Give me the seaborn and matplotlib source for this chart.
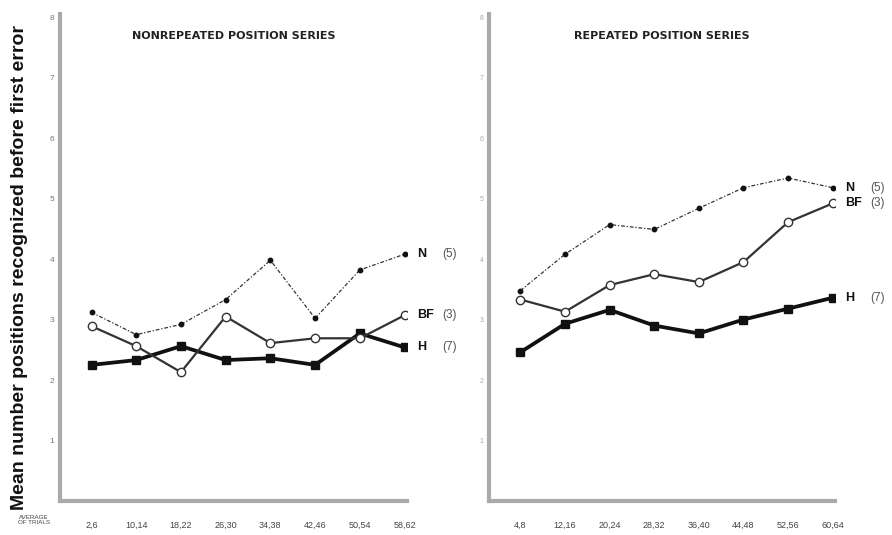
import numpy as np
import pandas as pd
import matplotlib
matplotlib.use("Agg")
import matplotlib.pyplot as plt
import seaborn as sns

# ---- data ----
left_ticks = ["2,6", "10,14", "18,22", "26,30", "34,38", "42,46", "50,54", "58,62"]
right_ticks = ["4,8", "12,16", "20,24", "28,32", "36,40", "44,48", "52,56", "60,64"]

left_N = [3.12, 2.75, 2.92, 3.33, 3.98, 3.02, 3.82, 4.08]
left_BF = [2.89, 2.56, 2.13, 3.05, 2.61, 2.69, 2.69, 3.07]
left_H = [2.25, 2.33, 2.56, 2.33, 2.36, 2.25, 2.77, 2.54]

right_N = [3.48, 4.08, 4.57, 4.49, 4.84, 5.18, 5.34, 5.18]
right_BF = [3.33, 3.13, 3.57, 3.75, 3.62, 3.95, 4.61, 4.92]
right_H = [2.46, 2.93, 3.16, 2.90, 2.77, 3.00, 3.18, 3.36]

groups = ["N", "BF", "H"]
group_n = ["(5)", "(3)", "(7)"]
titles = ["NONREPEATED POSITION SERIES", "REPEATED POSITION SERIES"]
y_ticks = [1, 2, 3, 4, 5, 6, 7, 8]

sns.set_style("white")
plt.rcParams["font.family"] = ["Liberation Sans", "DejaVu Sans"]

fig = plt.figure(figsize=(8.92, 5.35), dpi=100)
ax_l = fig.add_axes([0.067, 0.0636, 0.389, 0.910])
ax_r = fig.add_axes([0.548, 0.0636, 0.388, 0.910])

styles = {
    "N": dict(color="#333333", lw=0.9, ls=(0, (3, 1.5, 1, 1.5)), marker="o", ms=3.2, mfc="#111111", mec="#111111"),
    "BF": dict(color="#333333", lw=1.6, ls="-", marker="o", ms=6, mfc="white", mec="#333333", mew=1.0),
    "H": dict(color="#111111", lw=2.7, ls="-", marker="s", ms=6, mfc="#111111", mec="#111111"),
}

panels = [
    (ax_l, left_ticks, {"N": left_N, "BF": left_BF, "H": left_H}, titles[0]),
    (ax_r, right_ticks, {"N": right_N, "BF": right_BF, "H": right_H}, titles[1]),
]

for ax, ticks, series, title in panels:
    rows = []
    for g in groups:
        for i, (t, v) in enumerate(zip(ticks, series[g])):
            rows.append({"pos": i, "trial": t, "group": g, "value": v})
    df = pd.DataFrame(rows)
    for g in ["N", "BF", "H"]:
        st = styles[g]
        sub = df[df["group"] == g]
        sns.lineplot(data=sub, x="pos", y="value", ax=ax, color=st["color"],
                     linewidth=st["lw"], linestyle=st["ls"], marker=st["marker"],
                     markersize=st["ms"], markerfacecolor=st["mfc"],
                     markeredgecolor=st["mec"], markeredgewidth=st.get("mew", 1.0),
                     legend=False, zorder=3 if g != "BF" else 4)
    # end labels
    for g, n in zip(groups, group_n):
        yv = series[g][-1]
        ax.annotate(g, xy=(7, yv), xytext=(9, 0), textcoords="offset points",
                    fontsize=9, fontweight="bold", va="center", ha="left",
                    annotation_clip=False, color="#111111")
        ax.annotate(n, xy=(7, yv), xytext=(27, 0), textcoords="offset points",
                    fontsize=8.5, va="center", ha="left",
                    annotation_clip=False, color="#555555")
    ax.set_xlim(-0.71, 7.05)
    ax.set_ylim(0, 8.05)
    ax.set_xticks(range(8))
    ax.set_xticklabels(ticks, fontsize=6.5, color="#444444")
    ax.set_yticks(y_ticks)
    ax.set_yticklabels([str(t) for t in y_ticks], fontsize=6, color="#777777")
    ax.set_xlabel("")
    ax.set_ylabel("")
    for s in ["top", "right"]:
        ax.spines[s].set_visible(False)
    for s in ["left", "bottom"]:
        ax.spines[s].set_color("#aaaaaa")
        ax.spines[s].set_linewidth(3)
    ax.tick_params(axis="x", direction="in", length=6, width=1, color="#999999", pad=14)
    ax.tick_params(axis="y", direction="out", length=3, width=1, color="#999999", pad=1)
    ax.text(0.5, 0.955, title, transform=ax.transAxes, ha="center", va="center",
            fontsize=8, fontweight="bold", color="#222222",
            fontfamily=["DejaVu Sans"])

ax_r.set_yticklabels([str(t) for t in y_ticks], fontsize=5, color="#aaaaaa")

fig.text(0.022, 0.5, "Mean number positions recognized before first error",
         rotation=90, ha="center", va="center", fontsize=14, fontweight="bold",
         color="#111111")
fig.text(0.038, 0.018, "AVERAGE\nOF TRIALS", ha="center", va="bottom",
         fontsize=4.5, color="#444444", linespacing=1.0)

fig.savefig("out.png", dpi=100)
